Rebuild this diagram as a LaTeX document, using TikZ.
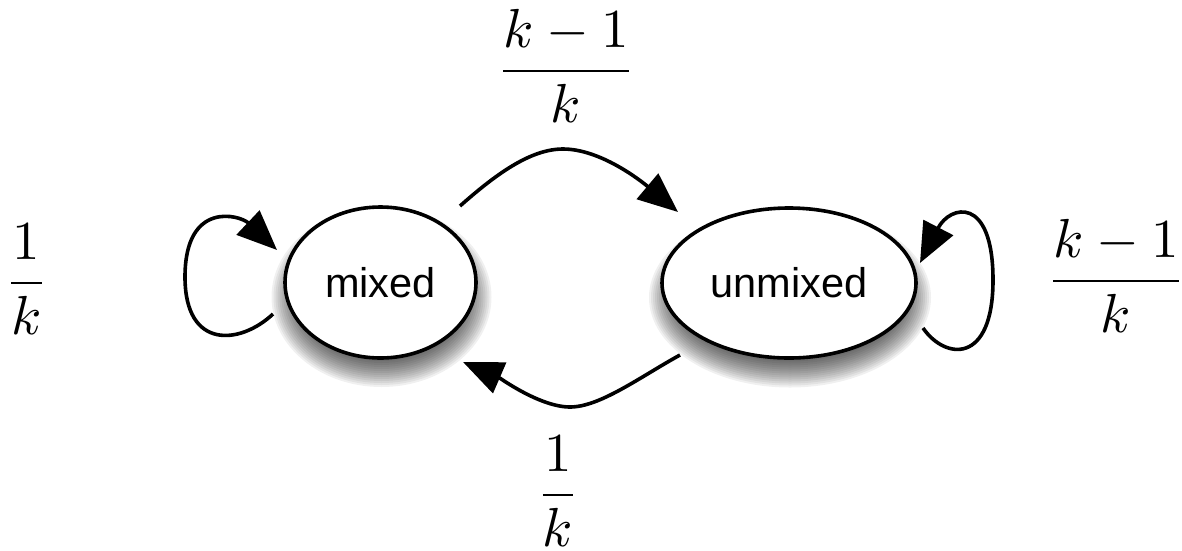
\documentclass[tikz,border=0pt]{standalone}
\usepackage{fontspec}
\newfontfamily\nodefont{Liberation Sans}
\usetikzlibrary{shapes.geometric,arrows.meta}
\newcommand{\biglab}[1]{\scalebox{5.5}{$\displaystyle #1$}}
\begin{document}
\begin{tikzpicture}[x=1pt,y=-1pt,
  state/.style={ellipse,draw,line width=3.6pt,fill=white,inner sep=0pt,
    font=\nodefont\fontsize{41.5}{50}\selectfont},
  arr/.style={line width=3.6pt,-{Triangle[length=40pt,width=33pt]}},
  lab/.style={anchor=base,inner sep=0pt},
  shadowlayer/.style={fill=black,opacity=0.06}]
\useasboundingbox (0,0) rectangle (1182,550);
% soft shadows
\foreach \d in {-20,-18,...,14}{
  \fill[shadowlayer] (381.5,297) ellipse [x radius=96pt+\d pt, y radius=76pt+\d pt];
  \fill[shadowlayer] (790,297.5) ellipse [x radius=127pt+\d pt, y radius=76pt+\d pt];
}
% states
\node[state,minimum width=191pt,minimum height=151pt] (m) at (380.5,282.5) {mixed};
\node[state,minimum width=254pt,minimum height=150pt] (u) at (789,283) {unmixed};
% transitions
\draw[arr] ([shift={(79.5,-76.5)}]m.center) .. controls (495,175) and (530,149) .. (563,149)
  .. controls (600,149) and (640,180) .. ([shift={(-111,-71)}]u.center);
\draw[arr] ([shift={(-109,72)}]u.center) .. controls (640,377) and (600,407) .. (570,407)
  .. controls (540,407) and (500,378) .. ([shift={(82.5,79.5)}]m.center);
\draw[arr] ([shift={(-107.5,31.5)}]m.center) .. controls (240,345) and (185,350) .. (185,277)
  .. controls (185,200) and (240,215) .. ([shift={(-103.5,-32.5)}]m.center);
\draw[arr] ([shift={(134,45)}]u.center) .. controls (945,360) and (993,365) .. (993,280)
  .. controls (993,195) and (950,205) .. ([shift={(131,-20)}]u.center);
% labels
\node[lab] (l1) at (566,84.5) {\biglab{\frac{k-1}{k}}};
\node[lab] (l2) at (26.5,296.75) {\biglab{\frac{1}{k}}};
\node[lab] (l3) at (1116,294.75) {\biglab{\frac{k-1}{k}}};
\node[lab] (l4) at (558,509) {\biglab{\frac{1}{k}}};
\end{tikzpicture}
\end{document}
